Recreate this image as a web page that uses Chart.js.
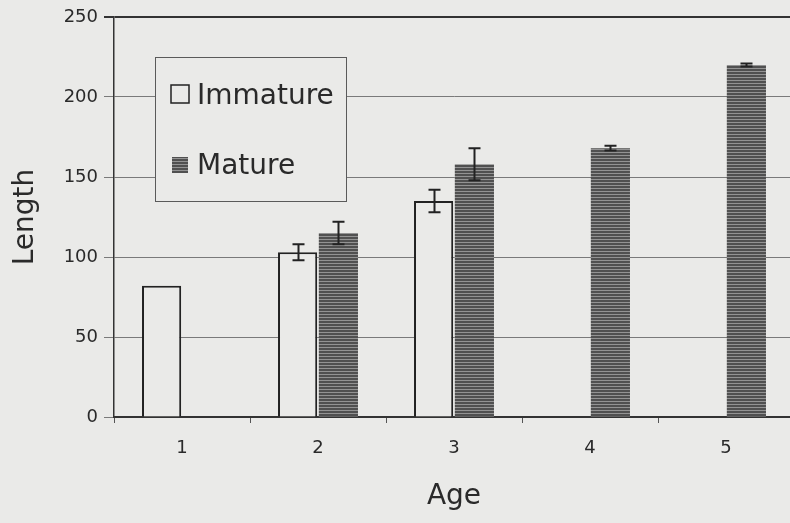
<!DOCTYPE html>
<html>
<head>
<meta charset="utf-8">
<script src="https://cdn.jsdelivr.net/npm/chart.js@4.4.1/dist/chart.umd.min.js"></script>
<style>
  html, body { margin: 0; padding: 0; background: #eaeae8; overflow: hidden; }
  #wrap { width: 800px; height: 523px; }
</style>
</head>
<body>
<div id="wrap"><canvas id="chart" width="800" height="523"></canvas></div>
<script>
const ages = ["1", "2", "3", "4", "5"];
const immature = [82, 103, 135, null, null];
const immatureErr = [null, 5, 7, null, null];
const mature = [null, 115, 158, 168, 220];
const matureErr = [null, 7, 10, 1.5, 1];
const yTicks = [0, 50, 100, 150, 200, 250];

const bg = "#eaeae8";
const ink = "#2a2a2a";
const font = "'DejaVu Sans', sans-serif";

// horizontal stripes like the scanned hatch
function stripePattern() {
  let c = document.createElement("canvas");
  c.width = 4;
  c.height = 3;
  let g = c.getContext("2d");
  g.fillStyle = "#505050";
  g.fillRect(0, 0, 4, 3);
  g.fillStyle = "#939393";
  g.fillRect(0, 2, 4, 1);
  return g.createPattern(c, "repeat");
}
const stripes = stripePattern();

const errorBars = {
  id: "errorBars",
  afterDatasetsDraw(chart) {
    let ctx = chart.ctx;
    let y = chart.scales.y;
    let errs = [immatureErr, matureErr];
    ctx.save();
    ctx.strokeStyle = "#222";
    ctx.lineWidth = 2;
    chart.data.datasets.forEach((ds, i) => {
      let meta = chart.getDatasetMeta(i);
      meta.data.forEach((bar, j) => {
        let v = ds.data[j];
        let e = errs[i][j];
        if (v == null || e == null) return;
        let x = Math.round(bar.x) + 0.5;
        let top = y.getPixelForValue(v + e);
        let bot = y.getPixelForValue(v - e);
        ctx.beginPath();
        ctx.moveTo(x, top);
        ctx.lineTo(x, bot);
        ctx.moveTo(x - 6, top);
        ctx.lineTo(x + 6, top);
        ctx.moveTo(x - 6, bot);
        ctx.lineTo(x + 6, bot);
        ctx.stroke();
      });
    });
    ctx.restore();
  },
};

const boxLegend = {
  id: "boxLegend",
  afterDatasetsDraw(chart) {
    let ctx = chart.ctx;
    ctx.save();
    ctx.fillStyle = bg;
    ctx.fillRect(155, 57, 191, 144);
    ctx.strokeStyle = "#5a5a5a";
    ctx.lineWidth = 1;
    ctx.strokeRect(155.5, 57.5, 191, 144);

    ctx.fillStyle = bg;
    ctx.fillRect(171, 85, 18, 18);
    ctx.strokeStyle = "#222";
    ctx.lineWidth = 1.5;
    ctx.strokeRect(171, 85, 18, 18);

    ctx.fillStyle = stripes;
    ctx.fillRect(172, 157, 16, 16);

    ctx.fillStyle = ink;
    ctx.font = "28px " + font;
    ctx.textBaseline = "alphabetic";
    ctx.fillText(chart.data.datasets[0].label, 197, 104);
    ctx.fillText(chart.data.datasets[1].label, 197, 174);
    ctx.restore();
  },
};

let ctx = document.getElementById("chart").getContext("2d");
let chart = new Chart(ctx, {
  type: "bar",
  data: {
    labels: ages,
    datasets: [
      {
        label: "Immature",
        data: immature,
        backgroundColor: bg,
        borderColor: "#222",
        borderWidth: { top: 2, left: 2, right: 2, bottom: 0 },
        borderSkipped: "start",
      },
      {
        label: "Mature",
        data: mature,
        backgroundColor: stripes,
        borderWidth: 0,
      },
    ],
  },
  options: {
    responsive: false,
    animation: false,
    layout: { padding: { top: 17, right: 6, left: 0, bottom: 0 } },
    datasets: {
      bar: { categoryPercentage: 0.6, barPercentage: 0.96 },
    },
    plugins: {
      legend: { display: false },
      tooltip: { enabled: false },
    },
    scales: {
      x: {
        offset: true,
        afterFit: (s) => { s.height = 106; },
        grid: {
          offset: true,
          drawOnChartArea: false,
          tickLength: 6,
          color: "#555",
        },
        border: { color: "#333", width: 2 },
        ticks: { color: ink, font: { family: font, size: 18 }, padding: 15 },
        title: {
          display: true,
          text: "Age",
          color: ink,
          font: { family: font, size: 28 },
          padding: { top: 0, bottom: 9 },
        },
      },
      y: {
        min: 0,
        max: 250,
        afterFit: (s) => { s.width = 114; },
        afterBuildTicks: (s) => { s.ticks = yTicks.map((v) => ({ value: v })); },
        grid: {
          tickLength: 10,
          color: (c) => (c.tick && c.tick.value === 250 ? "#333" : "#7a7a7a"),
          lineWidth: (c) => (c.tick && c.tick.value === 250 ? 2 : 1),
        },
        border: { color: "#333", width: 1.5 },
        ticks: { color: ink, font: { family: font, size: 18 }, padding: 6 },
        title: {
          display: true,
          text: "Length",
          color: ink,
          font: { family: font, size: 28 },
          padding: { top: 9, bottom: 0 },
        },
      },
    },
  },
  plugins: [errorBars, boxLegend],
});
</script>
</body>
</html>
